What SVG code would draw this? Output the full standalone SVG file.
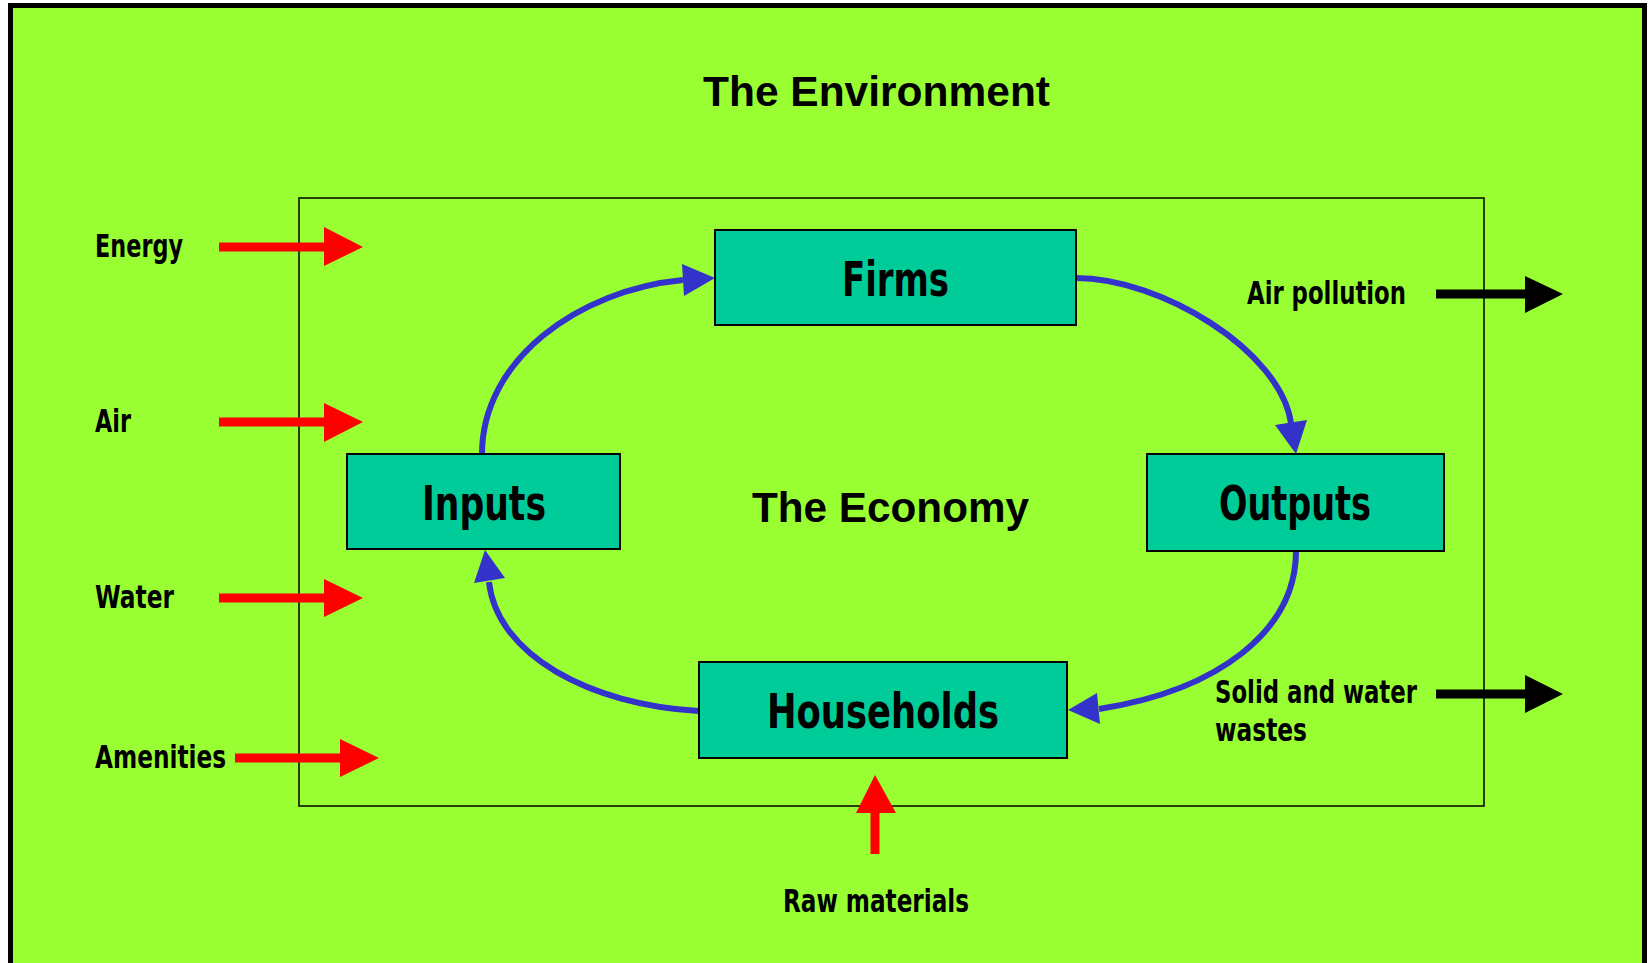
<svg xmlns="http://www.w3.org/2000/svg" width="1649" height="963" viewBox="0 0 1649 963">
  <style>
    .frame { fill: #99FF33; stroke: #000; stroke-width: 5; }
    .economy { fill: none; stroke: #000; stroke-width: 1.5; }
    .box { fill: #00CC99; stroke: #000; stroke-width: 2; }
    .flow { fill: none; stroke: #3333CC; stroke-width: 6; }
    .flow-head { fill: #3333CC; }
    .in-shaft { stroke: #FF0000; stroke-width: 9; }
    .in-head { fill: #FF0000; }
    .out-shaft { stroke: #000; stroke-width: 9; }
    .out-head { fill: #000; }
    .title { font-family: "Liberation Sans", Arial, sans-serif; font-weight: bold; fill: #000; }
    .narrow { font-family: "Liberation Sans Narrow", "Arial Narrow", "DejaVu Sans Condensed", "Liberation Sans", sans-serif; font-weight: bold; fill: #000; }
    .lbl { font-size: 32px; }
    .node-lbl { font-size: 48px; }
  </style>

  <rect width="1649" height="963" fill="#fff"/>
  <!-- environment frame (bottom edge runs past the canvas) -->
  <rect class="frame" x="10.5" y="5.5" width="1634" height="1000"/>

  <text class="title" x="703" y="106" font-size="42.5" textLength="347" lengthAdjust="spacingAndGlyphs">The Environment</text>

  <!-- economy boundary -->
  <rect id="economy" class="economy" x="299" y="198" width="1185" height="608"/>
  <text class="title" x="752" y="522" font-size="42" textLength="277" lengthAdjust="spacingAndGlyphs">The Economy</text>

  <!-- circular flow -->
  <g id="connectors">
    <path class="flow" d="M482,454 C482,360 578,290 683,280"/>
    <polygon class="flow-head" points="715,278 682,264 684,296"/>

    <path class="flow" d="M1076,278 C1160,278 1280,350 1291,423"/>
    <polygon class="flow-head" points="1296,454 1275,425 1307,420"/>

    <path class="flow" d="M1296,551 C1296,630 1220,690 1099,709"/>
    <polygon class="flow-head" points="1068,710 1097,693 1100,724"/>

    <path class="flow" d="M699,711 C590,705 497,655 489,582"/>
    <polygon class="flow-head" points="485,550 474,583 505,578"/>

    <!-- resources flowing in -->
    <line class="in-shaft" x1="219" y1="247" x2="325" y2="247"/>
    <polygon class="in-head" points="324,227 363,247 324,266"/>
    <line class="in-shaft" x1="219" y1="422" x2="325" y2="422"/>
    <polygon class="in-head" points="324,403 363,422 324,442"/>
    <line class="in-shaft" x1="219" y1="598" x2="325" y2="598"/>
    <polygon class="in-head" points="324,579 363,598 324,617"/>
    <line class="in-shaft" x1="235" y1="758" x2="341" y2="758"/>
    <polygon class="in-head" points="340,739 379,758 340,777"/>
    <line class="in-shaft" x1="875" y1="854" x2="875" y2="812"/>
    <polygon class="in-head" points="856,813 875,775 896,813"/>

    <!-- wastes flowing out -->
    <line class="out-shaft" x1="1436" y1="294" x2="1526" y2="294"/>
    <polygon class="out-head" points="1525,276 1563,294 1525,313"/>
    <line class="out-shaft" x1="1436" y1="694" x2="1526" y2="694"/>
    <polygon class="out-head" points="1525,675 1563,694 1525,713"/>
  </g>

  <g id="firms">
    <rect class="box" x="715" y="230" width="361" height="95"/>
    <text class="narrow node-lbl" x="842" y="296" textLength="107" lengthAdjust="spacingAndGlyphs">Firms</text>
  </g>
  <g id="inputs">
    <rect class="box" x="347" y="454" width="273" height="95"/>
    <text class="narrow node-lbl" x="422" y="520" textLength="124" lengthAdjust="spacingAndGlyphs">Inputs</text>
  </g>
  <g id="outputs">
    <rect class="box" x="1147" y="454" width="297" height="97"/>
    <text class="narrow node-lbl" x="1219" y="520" textLength="152" lengthAdjust="spacingAndGlyphs">Outputs</text>
  </g>
  <g id="households">
    <rect class="box" x="699" y="662" width="368" height="96"/>
    <text class="narrow node-lbl" x="767" y="728" textLength="232" lengthAdjust="spacingAndGlyphs">Households</text>
  </g>

  <g id="labels">
    <text class="narrow lbl" x="95" y="257" textLength="88" lengthAdjust="spacingAndGlyphs">Energy</text>
    <text class="narrow lbl" x="95" y="432" textLength="36" lengthAdjust="spacingAndGlyphs">Air</text>
    <text class="narrow lbl" x="95" y="608" textLength="79" lengthAdjust="spacingAndGlyphs">Water</text>
    <text class="narrow lbl" x="95" y="768" textLength="131" lengthAdjust="spacingAndGlyphs">Amenities</text>
    <text class="narrow lbl" x="783" y="912" textLength="186" lengthAdjust="spacingAndGlyphs">Raw materials</text>
    <text class="narrow lbl" x="1247" y="304" textLength="159" lengthAdjust="spacingAndGlyphs">Air pollution</text>
    <text class="narrow lbl" x="1215" y="703" textLength="202" lengthAdjust="spacingAndGlyphs">Solid and water</text>
    <text class="narrow lbl" x="1215" y="741" textLength="92" lengthAdjust="spacingAndGlyphs">wastes</text>
  </g>
</svg>
